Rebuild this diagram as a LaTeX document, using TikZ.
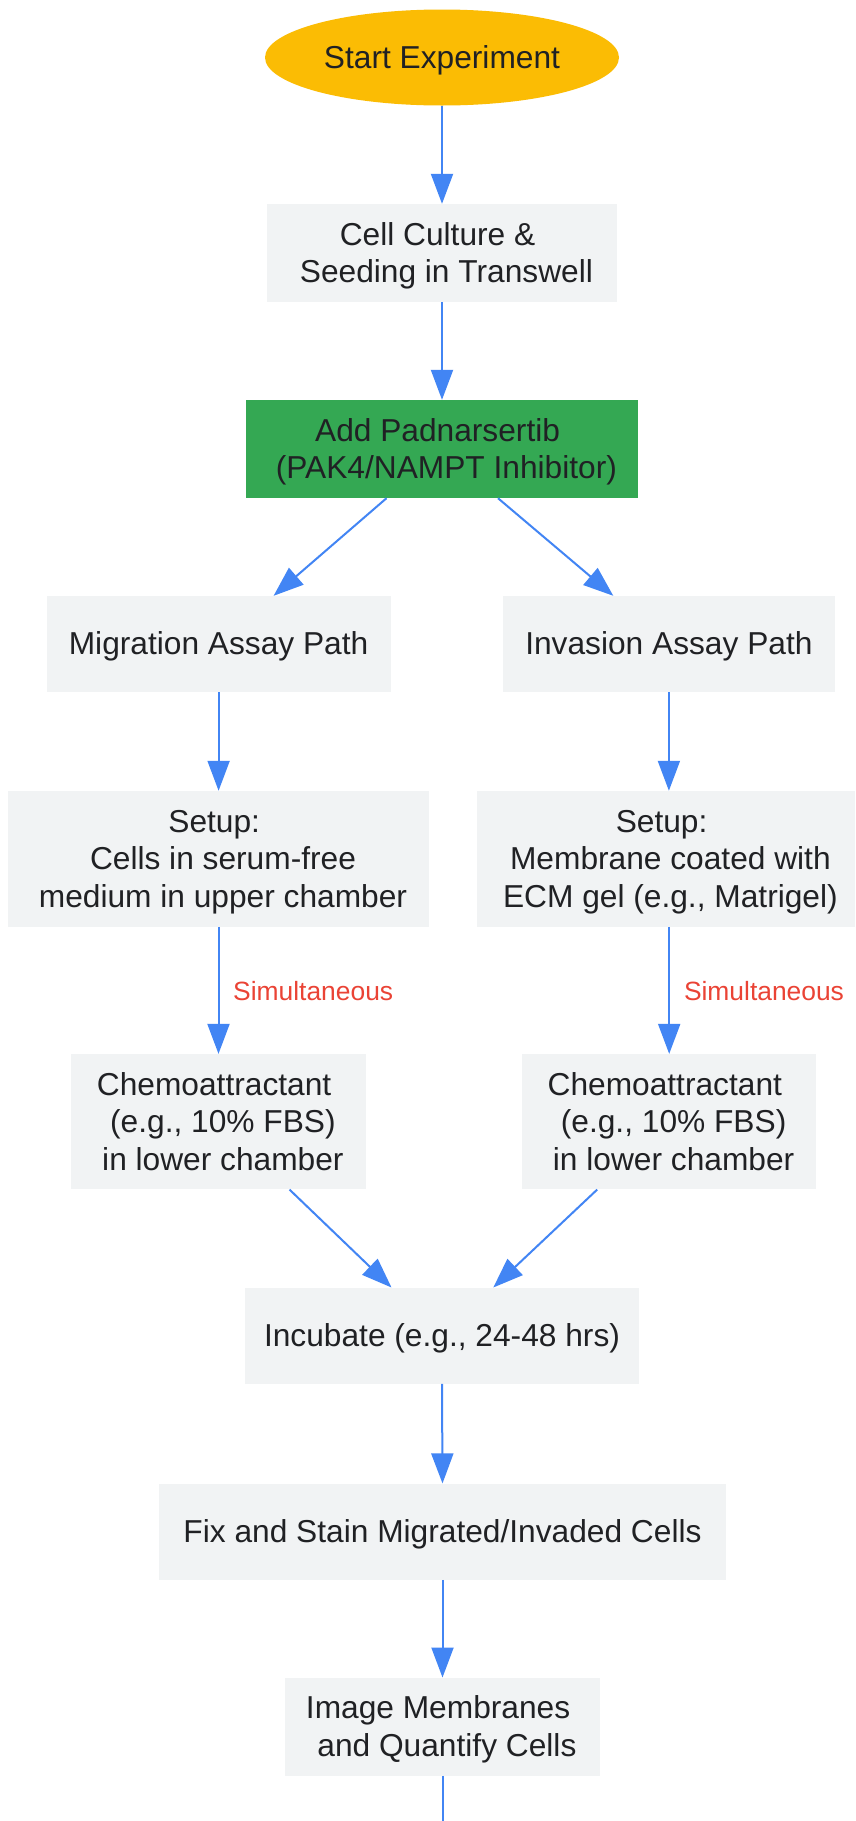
\documentclass[tikz,border=0pt]{standalone}
\usepackage{fontspec}
\setmainfont{Liberation Sans}
\usetikzlibrary{shapes.geometric,arrows.meta}
\definecolor{boxgray}{HTML}{F1F3F4}
\definecolor{gyellow}{HTML}{FBBC04}
\definecolor{ggreen}{HTML}{34A853}
\definecolor{gblue}{HTML}{4285F4}
\definecolor{gred}{HTML}{EA4335}
\definecolor{tdark}{HTML}{202124}
\newcommand{\myspc}{\hspace*{0.278em}}
\newcommand{\mystrut}{\rule[-6.7pt]{0pt}{35.2pt}}
\tikzset{
  stepbox/.style={rectangle, fill=boxgray, inner sep=0pt, align=center, text=tdark,
    font=\fontsize{31.7}{37.5}\selectfont},
  flow/.style={draw=gblue, line width=2pt, -{Triangle[length=30pt,width=22pt]}},
  plainflow/.style={draw=gblue, line width=2pt},
  lbl/.style={anchor=west, inner sep=0pt, text=gred, font=\fontsize{26.4}{30}\selectfont,
    text height=23.7pt, text depth=5.6pt}
}
\begin{document}
\begin{tikzpicture}[x=1pt,y=-1pt]
\useasboundingbox (0,0) rectangle (855,1821);
\fill[white] (0,0) rectangle (855,1821);

\node[ellipse, fill=gyellow, inner sep=0pt, minimum width=354pt, minimum height=96pt,
  text=tdark, font=\fontsize{31.7}{37.5}\selectfont]
  (start) at (442,57.5) {\mystrut Start Experiment};

\node[stepbox, minimum width=350pt, minimum height=98pt] (cell) at (442,253)
  {\mystrut Cell Culture \&\myspc\\\mystrut\myspc Seeding in Transwell};
\node[stepbox, fill=ggreen, minimum width=392.6pt, minimum height=98pt] (add) at (442,449)
  {\mystrut Add Padnarsertib\myspc\\\mystrut\myspc(PAK4/NAMPT Inhibitor)};

\node[stepbox, minimum width=344pt, minimum height=96pt] (mig) at (218.6,644)
  {\mystrut Migration Assay Path};
\node[stepbox, minimum width=332pt, minimum height=96pt] (inv) at (668.9,644)
  {\mystrut Invasion Assay Path};

\node[stepbox, minimum width=421pt, minimum height=135.7pt] (setL) at (218.6,858.8)
  {\mystrut Setup:\myspc\\\mystrut\myspc Cells in serum-free\myspc\\\mystrut\myspc medium in upper chamber};
\node[stepbox, minimum width=378pt, minimum height=135.7pt] (setR) at (666,858.8)
  {\mystrut Setup:\myspc\\\mystrut\myspc Membrane coated with\myspc\\\mystrut\myspc ECM gel (e.g., Matrigel)};

\node[stepbox, minimum width=295pt, minimum height=135.3pt] (chemL) at (218.5,1121.7)
  {\mystrut Chemoattractant\myspc\\\mystrut\myspc(e.g., 10\% FBS)\myspc\\\mystrut\myspc in lower chamber};
\node[stepbox, minimum width=294pt, minimum height=135.3pt] (chemR) at (669.2,1121.7)
  {\mystrut Chemoattractant\myspc\\\mystrut\myspc(e.g., 10\% FBS)\myspc\\\mystrut\myspc in lower chamber};

\node[stepbox, minimum width=394pt, minimum height=96pt] (inc) at (442,1335.7)
  {\mystrut Incubate (e.g., 24-48 hrs)};
\node[stepbox, minimum width=567pt, minimum height=96pt] (fix) at (442.5,1531.6)
  {\mystrut Fix and Stain Migrated/Invaded Cells};
\node[stepbox, minimum width=315pt, minimum height=98pt] (img) at (442.5,1726.7)
  {\mystrut Image Membranes\myspc\\\mystrut\myspc and Quantify Cells};
\coordinate (bottom) at (442.5,1821);

\draw[flow] (start.south) -- (cell.north);
\draw[flow] (cell.south) -- (add.north);
\draw[flow] ([xshift=-55.5pt]add.south) -- ([xshift=55pt]mig.north);
\draw[flow] ([xshift=56pt]add.south) -- ([xshift=-55.6pt]inv.north);
\draw[flow] (mig.south) -- (mig.south |- setL.north);
\draw[flow] (inv.south) -- (inv.south |- setR.north);
\draw[flow] (chemL.north |- setL.south) -- node[lbl, xshift=13.7pt, yshift=-1.5pt] {Simultaneous} (chemL.north);
\draw[flow] (chemR.north |- setR.south) -- node[lbl, xshift=13.8pt, yshift=-1.5pt] {Simultaneous} (chemR.north);
\draw[flow] ([xshift=71pt]chemL.south) -- ([xshift=-50.5pt]inc.north);
\draw[flow] ([xshift=-72pt]chemR.south) -- ([xshift=51.3pt]inc.north);
\draw[flow] (inc.south) -- (fix.north);
\draw[flow] (fix.south) -- (img.north);
\draw[plainflow] (img.south) -- (bottom);
\end{tikzpicture}
\end{document}
